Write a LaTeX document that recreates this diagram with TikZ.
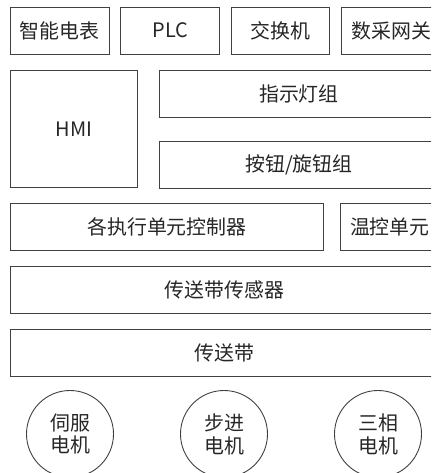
\documentclass[tikz,border=0pt]{standalone}
\usepackage{fontspec}
\setmainfont{Noto Sans CJK SC}
\usetikzlibrary{positioning}
\definecolor{linegray}{HTML}{404040}
\definecolor{textgray}{HTML}{262626}

\begin{document}
\begin{tikzpicture}[x=1bp, y=-1bp,
  block/.style={rectangle, draw=linegray, line width=0.9bp, minimum height=47bp, inner sep=0pt, text=textgray, font=\fontsize{20}{23}\selectfont},
  motor/.style={circle, draw=linegray, line width=0.9bp, minimum size=87bp, inner sep=0pt, align=center, text=textgray, font=\fontsize{20}{23}\selectfont},
  node distance=11bp
]
\clip (0,0) rectangle (431,473);

% Top row
\node[block, minimum width=99bp] (meter) at (59.5,30.5) {智能电表};
\node[block, minimum width=99bp, right=of meter] (plc) {PLC};
\node[block, minimum width=98bp, right=of plc] (switch) {交换机};
\node[block, minimum width=99bp, right=of switch] (gateway) {数采网关};

% Operator panel
\node[block, minimum width=127bp, minimum height=117bp, anchor=north west] (hmi) at (10,70) {HMI};
\node[block, minimum width=279bp, anchor=north west] (lamps) at (159,70) {指示灯组};
\node[block, minimum width=279bp, below=23bp of lamps] (buttons) {按钮/旋钮组};

% Controllers
\node[block, minimum width=313bp, anchor=north west] (ctrl) at (10,203) {各执行单元控制器};
\node[block, minimum width=99bp, right=16bp of ctrl] (temp) {温控单元};

% Conveyor
\node[block, minimum width=428bp, anchor=north west] (sensor) at (10,265.5) {传送带传感器};
\node[block, minimum width=428bp, anchor=north west] (belt) at (10,328.5) {传送带};

% Motors
\node[motor] (servo) at (70,434) {伺服\\电机};
\node[motor] (stepper) at (224,434) {步进\\电机};
\node[motor] (threephase) at (378,434) {三相\\电机};

\end{tikzpicture}
\end{document}
